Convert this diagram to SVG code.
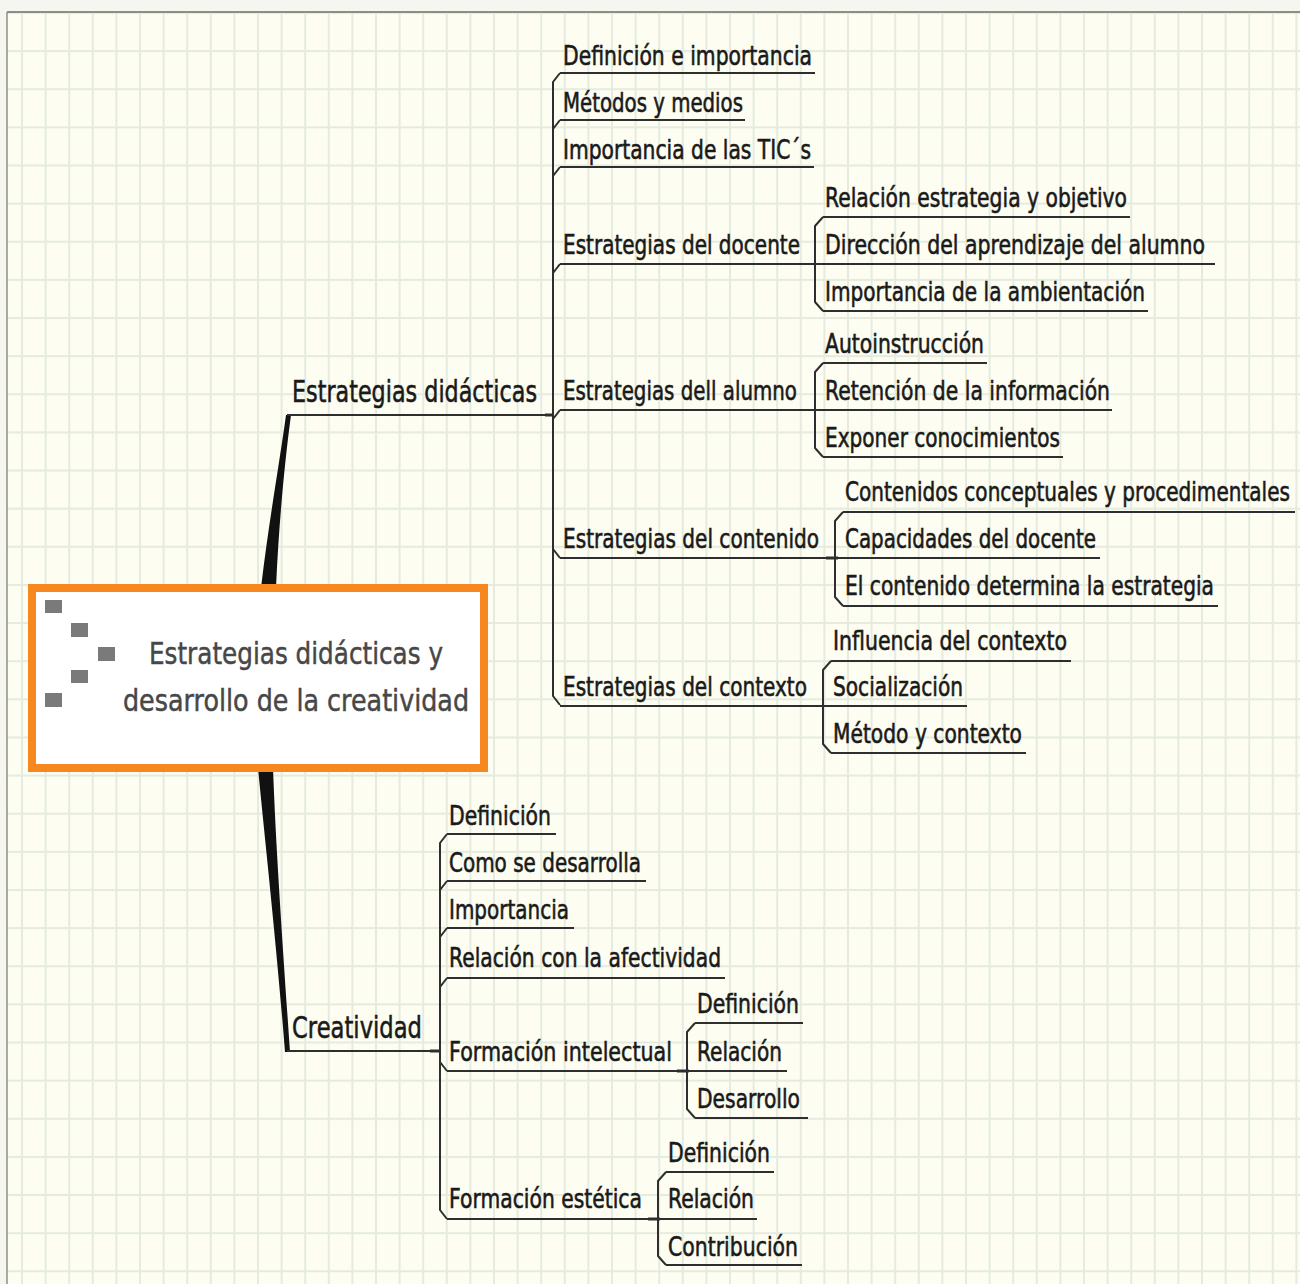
<svg xmlns="http://www.w3.org/2000/svg" width="1300" height="1284" viewBox="0 0 1300 1284">
<defs>
<pattern id="grid" patternUnits="userSpaceOnUse" x="21" y="12" width="23.6" height="38.13">
<rect x="0" y="0" width="2" height="38.13" fill="#e5ebdf"/>
<rect x="0" y="0" width="23.6" height="2" fill="#e5ebdf"/>
</pattern>
<style>
.t{font-family:"DejaVu Sans","Liberation Sans",sans-serif;fill:#1a1a1a;stroke:#1a1a1a;stroke-width:0.6;}
.l1{font-size:31px;}
.l2{font-size:26px;}
.c{font-family:"DejaVu Sans","Liberation Sans",sans-serif;font-size:31px;fill:#474747;stroke:#474747;stroke-width:0.5;}
.u{stroke:#2e2e2e;stroke-width:2.2;fill:none;}
.b{stroke:#2e2e2e;stroke-width:2;fill:none;stroke-linejoin:round;}
.ic{fill:#7a7a7a;}
</style>
</defs>
<rect width="1300" height="1284" fill="#f6f6f1"/>
<rect x="7" y="12" width="1293" height="1272" fill="#fdfdf1"/>
<rect x="7" y="12" width="1293" height="1272" fill="url(#grid)"/>
<line x1="7" y1="12" x2="1300" y2="12" stroke="#8e8e86" stroke-width="2"/>
<line x1="7" y1="12" x2="7" y2="1284" stroke="#8e8e86" stroke-width="1.5"/>

<g id="connectors">
<path d="M261,588 C269,520 280,460 286,415 L291,415 C285,460 279,520 276,588 Z" fill="#111"/>
<path d="M258,768 C266,850 277,950 285,1052 L290,1052 C283,950 276,850 273,768 Z" fill="#111"/>
<path class="b" d="M560,73 L553,82 L553,696 L560,705"/>
<path class="b" d="M553,129 L560,120"/>
<path class="b" d="M553,176 L560,167"/>
<path class="b" d="M553,273 L560,264"/>
<path class="b" d="M553,419 L560,410"/>
<path class="b" d="M553,549 L560,558"/>
<line x1="545" y1="415" x2="553" y2="415" stroke="#2e2e2e" stroke-width="3"/>
<path class="b" d="M823,217 L815,226 L815,302 L823,311"/>
<path class="b" d="M823,363 L815,372 L815,448 L823,457"/>
<path class="b" d="M843,512 L835,521 L835,597 L843,606"/>
<line x1="826" y1="558" x2="838" y2="558" stroke="#2e2e2e" stroke-width="3"/>
<path class="b" d="M831,661 L823,670 L823,744 L831,753"/>
<path class="b" d="M447,834 L440,843 L440,1210 L447,1219"/>
<path class="b" d="M440,890 L447,881"/>
<path class="b" d="M440,937 L447,928"/>
<path class="b" d="M440,987 L447,978"/>
<path class="b" d="M440,1062 L447,1071"/>
<line x1="430" y1="1051" x2="440" y2="1051" stroke="#2e2e2e" stroke-width="3"/>
<path class="b" d="M695,1023 L687,1032 L687,1109 L695,1118"/>
<line x1="677" y1="1071" x2="689" y2="1071" stroke="#2e2e2e" stroke-width="3"/>
<path class="b" d="M666,1172 L658,1181 L658,1256 L666,1265"/>
<line x1="648" y1="1219" x2="660" y2="1219" stroke="#2e2e2e" stroke-width="3"/>
</g>

<g id="center">
<rect x="32" y="588" width="452" height="180" fill="#ffffff" stroke="#f7871f" stroke-width="8"/>
<rect class="ic" x="45" y="600" width="17" height="13"/>
<rect class="ic" x="71" y="623" width="17" height="14"/>
<rect class="ic" x="98" y="647" width="17" height="14"/>
<rect class="ic" x="71" y="670" width="17" height="13"/>
<rect class="ic" x="45" y="693" width="17" height="14"/>
<text class="c" x="149" y="664" textLength="294" lengthAdjust="spacingAndGlyphs">Estrategias didácticas y</text>
<text class="c" x="123" y="711" textLength="346" lengthAdjust="spacingAndGlyphs">desarrollo de la creatividad</text>
</g>

<g id="n-estrategias-didacticas">
<text class="t l1" x="292" y="402" textLength="245" lengthAdjust="spacingAndGlyphs">Estrategias didácticas</text>
<line class="u" x1="287" y1="415" x2="553" y2="415"/>
</g>
<g id="n-creatividad">
<text class="t l1" x="292" y="1038" textLength="130" lengthAdjust="spacingAndGlyphs">Creatividad</text>
<line class="u" x1="287" y1="1051" x2="440" y2="1051"/>
</g>

<g id="n-definicion-importancia">
<text class="t l2" x="563" y="65" textLength="249" lengthAdjust="spacingAndGlyphs">Definición e importancia</text>
<line class="u" x1="560" y1="73" x2="815" y2="73"/>
</g>
<g id="n-metodos">
<text class="t l2" x="563" y="112" textLength="180" lengthAdjust="spacingAndGlyphs">Métodos y medios</text>
<line class="u" x1="560" y1="120" x2="745" y2="120"/>
</g>
<g id="n-tics">
<text class="t l2" x="563" y="159" textLength="248" lengthAdjust="spacingAndGlyphs">Importancia de las TIC´s</text>
<line class="u" x1="560" y1="167" x2="814" y2="167"/>
</g>
<g id="n-docente">
<text class="t l2" x="563" y="254" textLength="237" lengthAdjust="spacingAndGlyphs">Estrategias del docente</text>
<line class="u" x1="560" y1="264" x2="815" y2="264"/>
</g>
<g id="n-alumno">
<text class="t l2" x="563" y="400" textLength="234" lengthAdjust="spacingAndGlyphs">Estrategias dell alumno</text>
<line class="u" x1="560" y1="410" x2="815" y2="410"/>
</g>
<g id="n-contenido">
<text class="t l2" x="563" y="548" textLength="256" lengthAdjust="spacingAndGlyphs">Estrategias del contenido</text>
<line class="u" x1="560" y1="558" x2="835" y2="558"/>
</g>
<g id="n-contexto">
<text class="t l2" x="563" y="696" textLength="244" lengthAdjust="spacingAndGlyphs">Estrategias del contexto</text>
<line class="u" x1="560" y1="706" x2="823" y2="706"/>
</g>

<g id="n-relacion-estrategia">
<text class="t l2" x="825" y="207" textLength="302" lengthAdjust="spacingAndGlyphs">Relación estrategia y objetivo</text>
<line class="u" x1="823" y1="217" x2="1130" y2="217"/>
</g>
<g id="n-direccion">
<text class="t l2" x="825" y="254" textLength="380" lengthAdjust="spacingAndGlyphs">Dirección del aprendizaje del alumno</text>
<line class="u" x1="815" y1="264" x2="1215" y2="264"/>
</g>
<g id="n-ambientacion">
<text class="t l2" x="825" y="301" textLength="320" lengthAdjust="spacingAndGlyphs">Importancia de la ambientación</text>
<line class="u" x1="823" y1="311" x2="1148" y2="311"/>
</g>

<g id="n-autoinstruccion">
<text class="t l2" x="825" y="353" textLength="159" lengthAdjust="spacingAndGlyphs">Autoinstrucción</text>
<line class="u" x1="823" y1="363" x2="987" y2="363"/>
</g>
<g id="n-retencion">
<text class="t l2" x="825" y="400" textLength="285" lengthAdjust="spacingAndGlyphs">Retención de la información</text>
<line class="u" x1="815" y1="410" x2="1112" y2="410"/>
</g>
<g id="n-exponer">
<text class="t l2" x="825" y="447" textLength="235" lengthAdjust="spacingAndGlyphs">Exponer conocimientos</text>
<line class="u" x1="823" y1="457" x2="1063" y2="457"/>
</g>

<g id="n-contenidos-conceptuales">
<text class="t l2" x="845" y="501" textLength="445" lengthAdjust="spacingAndGlyphs">Contenidos conceptuales y procedimentales</text>
<line class="u" x1="843" y1="512" x2="1295" y2="512"/>
</g>
<g id="n-capacidades">
<text class="t l2" x="845" y="548" textLength="251" lengthAdjust="spacingAndGlyphs">Capacidades del docente</text>
<line class="u" x1="835" y1="558" x2="1100" y2="558"/>
</g>
<g id="n-contenido-determina">
<text class="t l2" x="845" y="595" textLength="369" lengthAdjust="spacingAndGlyphs">El contenido determina la estrategia</text>
<line class="u" x1="843" y1="606" x2="1218" y2="606"/>
</g>

<g id="n-influencia">
<text class="t l2" x="833" y="650" textLength="234" lengthAdjust="spacingAndGlyphs">Influencia del contexto</text>
<line class="u" x1="831" y1="661" x2="1071" y2="661"/>
</g>
<g id="n-socializacion">
<text class="t l2" x="833" y="696" textLength="130" lengthAdjust="spacingAndGlyphs">Socialización</text>
<line class="u" x1="823" y1="706" x2="967" y2="706"/>
</g>
<g id="n-metodo-contexto">
<text class="t l2" x="833" y="743" textLength="189" lengthAdjust="spacingAndGlyphs">Método y contexto</text>
<line class="u" x1="831" y1="753" x2="1026" y2="753"/>
</g>

<g id="n-c-definicion">
<text class="t l2" x="449" y="825" textLength="102" lengthAdjust="spacingAndGlyphs">Definición</text>
<line class="u" x1="447" y1="834" x2="556" y2="834"/>
</g>
<g id="n-c-como">
<text class="t l2" x="449" y="872" textLength="192" lengthAdjust="spacingAndGlyphs">Como se desarrolla</text>
<line class="u" x1="447" y1="881" x2="646" y2="881"/>
</g>
<g id="n-c-importancia">
<text class="t l2" x="449" y="919" textLength="120" lengthAdjust="spacingAndGlyphs">Importancia</text>
<line class="u" x1="447" y1="928" x2="574" y2="928"/>
</g>
<g id="n-c-afectividad">
<text class="t l2" x="449" y="967" textLength="272" lengthAdjust="spacingAndGlyphs">Relación con la afectividad</text>
<line class="u" x1="447" y1="978" x2="725" y2="978"/>
</g>
<g id="n-formacion-intelectual">
<text class="t l2" x="449" y="1061" textLength="223" lengthAdjust="spacingAndGlyphs">Formación intelectual</text>
<line class="u" x1="447" y1="1071" x2="687" y2="1071"/>
</g>
<g id="n-formacion-estetica">
<text class="t l2" x="449" y="1208" textLength="193" lengthAdjust="spacingAndGlyphs">Formación estética</text>
<line class="u" x1="447" y1="1219" x2="658" y2="1219"/>
</g>

<g id="n-fi-definicion">
<text class="t l2" x="697" y="1013" textLength="102" lengthAdjust="spacingAndGlyphs">Definición</text>
<line class="u" x1="695" y1="1023" x2="803" y2="1023"/>
</g>
<g id="n-fi-relacion">
<text class="t l2" x="697" y="1061" textLength="85" lengthAdjust="spacingAndGlyphs">Relación</text>
<line class="u" x1="687" y1="1071" x2="787" y2="1071"/>
</g>
<g id="n-fi-desarrollo">
<text class="t l2" x="697" y="1108" textLength="103" lengthAdjust="spacingAndGlyphs">Desarrollo</text>
<line class="u" x1="695" y1="1118" x2="808" y2="1118"/>
</g>

<g id="n-fe-definicion">
<text class="t l2" x="668" y="1162" textLength="102" lengthAdjust="spacingAndGlyphs">Definición</text>
<line class="u" x1="666" y1="1172" x2="774" y2="1172"/>
</g>
<g id="n-fe-relacion">
<text class="t l2" x="668" y="1208" textLength="86" lengthAdjust="spacingAndGlyphs">Relación</text>
<line class="u" x1="658" y1="1219" x2="757" y2="1219"/>
</g>
<g id="n-fe-contribucion">
<text class="t l2" x="668" y="1256" textLength="130" lengthAdjust="spacingAndGlyphs">Contribución</text>
<line class="u" x1="666" y1="1265" x2="802" y2="1265"/>
</g>
</svg>
